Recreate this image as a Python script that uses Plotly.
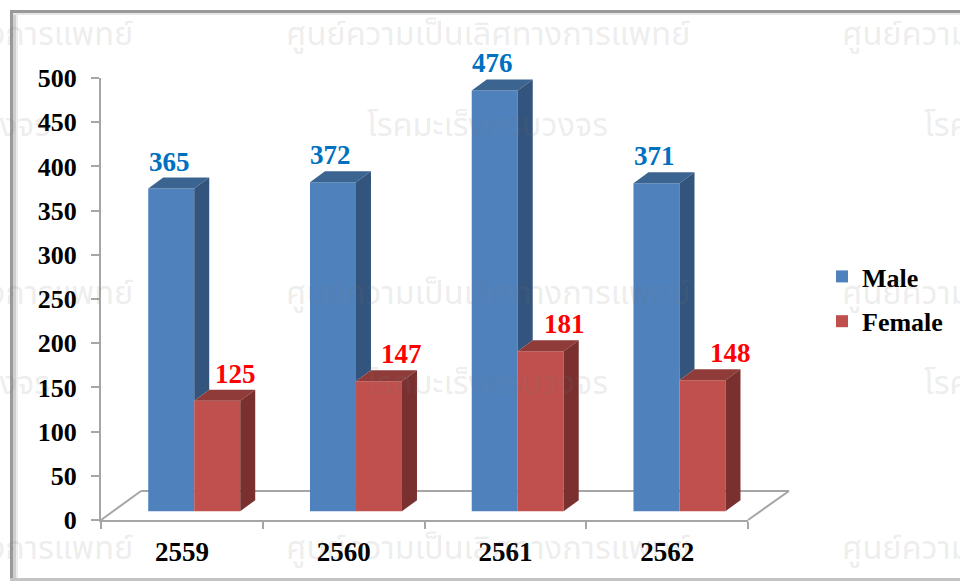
import plotly.graph_objects as go

years = [2559, 2560, 2561, 2562]
male = [365, 372, 476, 371]
female = [125, 147, 181, 148]

W, H = 960, 583
L, R, T, B = 101, 748, 78, 520
PXX = (R - L) / 4
PXY = (B - T) / 500
BAR_W = 46 / PXX
DX = 15 / PXX
DY = 11 / PXY
BASE = 10
M_OFF = -0.208
F_OFF = M_OFF + BAR_W
SERIF = "Liberation Serif"

fig = go.Figure()
fig.add_bar(x=years, y=male, base=BASE, width=BAR_W, offset=M_OFF, name="Male", legendgroup="m",
            marker=dict(color="#4f81bd", line=dict(width=0)))
fig.add_bar(x=years, y=female, base=BASE, width=BAR_W, offset=F_OFF, name="Female", legendgroup="f",
            marker=dict(color="#c0504d", line=dict(width=0)))


def poly(xs, ys, color):
    fig.add_scatter(x=xs + xs[:1], y=ys + ys[:1], mode="lines", fill="toself", fillcolor=color,
                    line=dict(width=0, color=color), showlegend=False, hoverinfo="skip", cliponaxis=False)


for yr, m, f in zip(years, male, female):
    mx0 = yr + M_OFF
    mx1 = mx0 + BAR_W
    fx0 = yr + F_OFF
    fx1 = fx0 + BAR_W
    mt, ft = m + BASE, f + BASE
    # male top + side (side ends at the female bar's top)
    poly([mx0, mx1, mx1 + DX, mx0 + DX], [mt, mt, mt + DY, mt + DY], "#3c6490")
    poly([mx1, mx1 + DX, mx1 + DX, mx1], [mt, mt + DY, ft + DY, ft], "#33547c")
    # female top + side
    poly([fx0, fx1, fx1 + DX, fx0 + DX], [ft, ft, ft + DY, ft + DY], "#8f3b39")
    poly([fx1, fx1 + DX, fx1 + DX, fx1], [ft, ft + DY, BASE + DY, BASE], "#7a302e")

M_LABEL_DX = [-2, -2, -2, -2]
F_LABEL_DX = [18, 23, 24, 28]
LABEL_DY = 27

annotations = []


def labels(off, vals, dxs, color):
    for yr, v, d in zip(years, vals, dxs):
        annotations.append(dict(
            text=str(v), xref="x", yref="y", x=yr + off + BAR_W / 2, y=v + BASE, xshift=d, yshift=LABEL_DY,
            xanchor="center", yanchor="middle", showarrow=False,
            font=dict(family=SERIF, size=27, color=color, weight="bold")))


labels(M_OFF, male, M_LABEL_DX, "#0070c0")
labels(F_OFF, female, F_LABEL_DX, "#ff0000")


def px(x):
    return (x - L) / (R - L)


def py(y):
    return (B - y) / (B - T)


shapes = []
# floor outline
FLOOR = [(101, 520), (141, 491), (789, 491), (748, 520)]
for (a, b), (c, d) in zip(FLOOR, FLOOR[1:]):
    shapes.append(dict(type="line", xref="paper", yref="paper", x0=px(a), y0=py(b), x1=px(c), y1=py(d),
                       layer="below", line=dict(color="#a6a6a6", width=2)))
# picture frame
for x0, y0, x1, y1, c in [
    (10, 11, 13, 580, "#9a9a9a"), (13, 13, 16, 578, "#cfcfcf"), (16, 14, 18, 578, "#ececec"),
    (10, 10, 960, 13, "#9a9a9a"), (13, 13, 960, 15, "#e6e6e6"),
    (10, 578, 960, 581, "#c4c4c4"),
]:
    shapes.append(dict(type="rect", xref="paper", yref="paper", x0=px(x0), y0=py(y1), x1=px(x1), y1=py(y0),
                       layer="below", line=dict(width=0), fillcolor=c))

WM1 = "ศูนย์ความเป็นเลิศทางการแพทย์"
WM2 = "โรคมะเร็งครบวงจร"
WM_COLOR = "rgba(120,120,120,0.15)"
wm = []
for yy in (33, 291, 546):
    wm.append(dict(text=WM1, x=px(488), y=py(yy), xanchor="center"))
    wm.append(dict(text=WM1, x=px(136), y=py(yy), xanchor="right"))
    wm.append(dict(text=WM1, x=px(840), y=py(yy), xanchor="left"))
for yy in (124, 381):
    wm.append(dict(text=WM2, x=px(487), y=py(yy), xanchor="center"))
    wm.append(dict(text=WM2, x=px(52), y=py(yy), xanchor="right"))
    wm.append(dict(text=WM2, x=px(922), y=py(yy), xanchor="left"))
for a in wm:
    a.update(xref="paper", yref="paper", yanchor="middle", showarrow=False,
             font=dict(family="Noto Sans, Noto Sans Thai, sans-serif", size=32.5, color=WM_COLOR))
annotations.extend(wm)

fig.update_layout(
    width=W, height=H, autosize=False, barmode="overlay",
    margin=dict(l=L, r=W - R, t=T, b=H - B, pad=0),
    paper_bgcolor="white", plot_bgcolor="rgba(0,0,0,0)",
    shapes=shapes, annotations=annotations,
    legend=dict(x=px(822), y=py(253), xanchor="left", yanchor="top", bgcolor="rgba(0,0,0,0)",
                font=dict(family=SERIF, size=26, color="#000000", weight="bold"),
                itemsizing="trace", tracegroupgap=8),
    xaxis=dict(range=[years[0] - 0.5, years[-1] + 0.5], tickmode="array", tickvals=years,
               ticktext=[str(y) for y in years], ticks="", showgrid=False, zeroline=False,
               showline=True, linecolor="#a6a6a6", linewidth=2, ticklabelstandoff=7,
               tickfont=dict(family=SERIF, size=27, color="#000000", weight="bold"),
               minor=dict(tickmode="linear", tick0=years[0] - 0.5, dtick=1, ticks="outside", ticklen=7,
                          tickwidth=2, tickcolor="#a6a6a6", showgrid=False)),
    yaxis=dict(range=[0, 500], tickmode="linear", tick0=0, dtick=50, ticks="outside", ticklen=8, tickwidth=2,
               tickcolor="#a6a6a6", showgrid=False, zeroline=False, showline=True, linecolor="#a6a6a6",
               linewidth=2, ticklabelstandoff=9,
               tickfont=dict(family=SERIF, size=26, color="#000000", weight="bold")),
)

fig.write_html("out.html", config=dict(displayModeBar=False),
               post_script="document.body.style.margin='0';document.body.style.overflow='hidden';")
